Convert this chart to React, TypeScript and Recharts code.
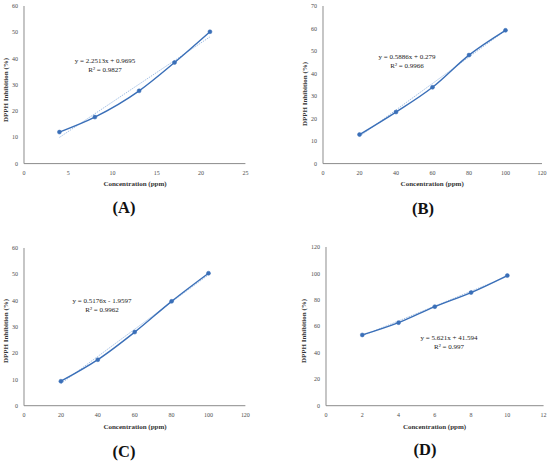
import { ComposedChart, Line, XAxis, YAxis } from "recharts";

const concA = [4, 8, 13, 17, 21];
const inhibA = [12.0, 17.7, 27.7, 38.5, 50.2];
const trendA = [9.97, 18.98, 30.24, 39.24, 48.24];

const concB = [20, 40, 60, 80, 100];
const inhibB = [12.9, 22.9, 33.9, 48.2, 59.2];
const trendB = [12.05, 23.82, 35.59, 47.37, 59.14];

const concC = [20, 40, 60, 80, 100];
const inhibC = [9.3, 17.5, 28.0, 39.7, 50.4];
const trendC = [8.39, 18.74, 29.1, 39.45, 49.8];

const concD = [2, 4, 6, 8, 10];
const inhibD = [53.5, 62.8, 74.9, 85.5, 98.4];
const trendD = [52.84, 64.08, 75.32, 86.56, 97.8];

const SERIES = "#3a6fb8";
const TREND = "#a3c0e4";
const AXIS = "#8c8c8c";
const FONT = '"Liberation Serif", "Times New Roman", serif';

const toRows = (x: number[], y: number[], t: number[]) =>
  x.map((v, i) => ({ conc: v, inhib: y[i], trend: t[i] }));

interface Box {
  left: number;
  right: number;
  top: number;
  bottom: number;
}

interface PanelProps {
  rows: { conc: number; inhib: number; trend: number }[];
  xMax: number;
  xTicks: number[];
  yMax: number;
  yTicks: number[];
  box: Box;
  eq: string;
  r2: string;
  eqPos: [number, number];
  yTitlePos: [number, number];
  xTitleY: number;
  letter: string;
  letterPos: [number, number];
}

const YW = 30;
const PAD = 6;
const XH = 14;

const Centered = ({
  x,
  y,
  children,
  style,
}: {
  x: number;
  y: number;
  children: React.ReactNode;
  style?: React.CSSProperties;
}) => (
  <div
    style={{
      position: "absolute",
      left: x,
      top: y,
      transform: "translate(-50%, -50%)",
      whiteSpace: "nowrap",
      lineHeight: 1,
      fontFamily: FONT,
      ...style,
    }}
  >
    {children}
  </div>
);

const Panel = (p: PanelProps) => {
  const { box } = p;
  const w = box.right - box.left + YW + PAD;
  const h = box.bottom - box.top + PAD + XH;
  const tick = { fontSize: 6, fill: "#4a4a4a", fontFamily: FONT };
  return (
    <>
      <div style={{ position: "absolute", left: box.left - YW, top: box.top - PAD }}>
        <ComposedChart
          width={w}
          height={h}
          data={p.rows}
          margin={{ top: PAD, right: PAD, left: 0, bottom: 0 }}
        >
          <XAxis
            type="number"
            dataKey="conc"
            domain={[0, p.xMax]}
            ticks={p.xTicks}
            height={XH}
            tickLine={false}
            tickSize={0}
            tickMargin={7}
            stroke={AXIS}
            tick={tick}
            interval={0}
          />
          <YAxis
            type="number"
            domain={[0, p.yMax]}
            ticks={p.yTicks}
            width={YW}
            tickLine={false}
            tickSize={0}
            tickMargin={6}
            stroke={AXIS}
            tick={tick}
            interval={0}
          />
          <Line
            dataKey="trend"
            stroke={TREND}
            strokeWidth={1}
            strokeDasharray="1.5 1"
            dot={false}
            isAnimationActive={false}
          />
          <Line
            dataKey="inhib"
            type="monotone"
            stroke={SERIES}
            strokeWidth={1.4}
            dot={{ r: 2, fill: SERIES, stroke: SERIES, strokeWidth: 0.5 }}
            isAnimationActive={false}
          />
        </ComposedChart>
      </div>
      <Centered x={p.eqPos[0]} y={p.eqPos[1]} style={{ fontSize: 7, color: "#222", textAlign: "center", lineHeight: "9px" }}>
        {p.eq}
        <br />
        {p.r2}
      </Centered>
      <Centered
        x={p.yTitlePos[0]}
        y={p.yTitlePos[1]}
        style={{ fontSize: 7, fontWeight: "bold", color: "#333", transform: "translate(-50%, -50%) rotate(-90deg)" }}
      >
        DPPH Inhibition (%)
      </Centered>
      <Centered
        x={(box.left + box.right) / 2}
        y={p.xTitleY}
        style={{ fontSize: 7, fontWeight: "bold", color: "#333" }}
      >
        Concentration (ppm)
      </Centered>
      <Centered x={p.letterPos[0]} y={p.letterPos[1]} style={{ fontSize: 16.5, fontWeight: "bold", color: "#111" }}>
        {p.letter}
      </Centered>
    </>
  );
};

export default function App() {
  return (
    <div
      style={{
        position: "absolute",
        left: 0,
        top: 0,
        width: 550,
        height: 463,
        background: "#fff",
        overflow: "hidden",
      }}
    >
      <Panel
        rows={toRows(concA, inhibA, trendA)}
        xMax={25}
        xTicks={[0, 5, 10, 15, 20, 25]}
        yMax={60}
        yTicks={[0, 10, 20, 30, 40, 50, 60]}
        box={{ left: 24.3, right: 245.7, top: 5.7, bottom: 163.3 }}
        eq="y = 2.2513x + 0.9695"
        r2="R² = 0.9827"
        eqPos={[105, 65.5]}
        yTitlePos={[6, 90]}
        xTitleY={183.5}
        letter="(A)"
        letterPos={[124, 208]}
      />
      <Panel
        rows={toRows(concB, inhibB, trendB)}
        xMax={120}
        xTicks={[0, 20, 40, 60, 80, 100, 120]}
        yMax={70}
        yTicks={[0, 10, 20, 30, 40, 50, 60, 70]}
        box={{ left: 322.7, right: 541.7, top: 5.7, bottom: 163.3 }}
        eq="y = 0.5886x + 0.279"
        r2="R² = 0.9966"
        eqPos={[407, 62]}
        yTitlePos={[305, 94]}
        xTitleY={183.5}
        letter="(B)"
        letterPos={[423, 209]}
      />
      <Panel
        rows={toRows(concC, inhibC, trendC)}
        xMax={120}
        xTicks={[0, 20, 40, 60, 80, 100, 120]}
        yMax={60}
        yTicks={[0, 10, 20, 30, 40, 50, 60]}
        box={{ left: 24.3, right: 245.7, top: 248.3, bottom: 406 }}
        eq="y = 0.5176x - 1.9597"
        r2="R² = 0.9962"
        eqPos={[102, 306]}
        yTitlePos={[5.5, 331]}
        xTitleY={426.5}
        letter="(C)"
        letterPos={[124, 451.5]}
      />
      <Panel
        rows={toRows(concD, inhibD, trendD)}
        xMax={12}
        xTicks={[0, 2, 4, 6, 8, 10, 12]}
        yMax={120}
        yTicks={[0, 20, 40, 60, 80, 100, 120]}
        box={{ left: 325.7, right: 543.3, top: 247.3, bottom: 406 }}
        eq="y = 5.621x + 41.594"
        r2="R² = 0.997"
        eqPos={[449, 343]}
        yTitlePos={[304, 331]}
        xTitleY={426.5}
        letter="(D)"
        letterPos={[425, 450]}
      />
    </div>
  );
}
